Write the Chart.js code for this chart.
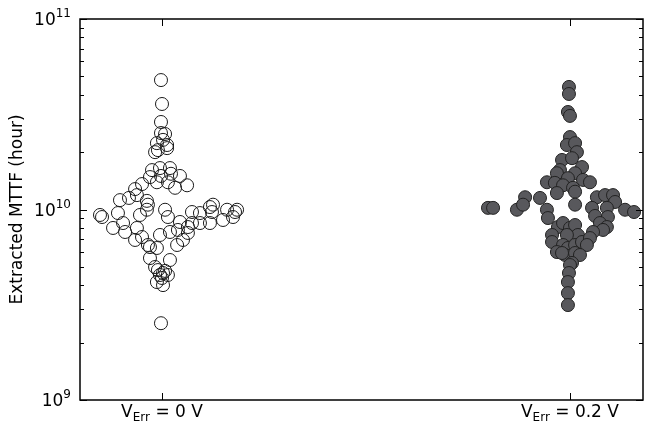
<!DOCTYPE html>
<html>
<head>
<meta charset="utf-8">
<script src="https://cdn.jsdelivr.net/npm/chart.js@4.4.1/dist/chart.umd.min.js"></script>
<style>
  html, body { margin: 0; padding: 0; background: #fff; }
  #wrap { width: 647px; height: 425px; position: relative; }
</style>
</head>
<body>
<div id="wrap"><canvas id="mttf"></canvas></div>
<script>
// group centres on the x axis (mV) and their labels: [main, subscript, rest]
const groupX = [0, 200];
const groupNames = [['V', 'Err', ' = 0 V'], ['V', 'Err', ' = 0.2 V']];
const decades = [9, 10, 11];

// V_Err = 0 V : x jitter (mV) and extracted MTTF (hours)
const zeroX = [-0.5, 0, -0.5, -0.5, 1.5, 0.5, -2.5, 2.5, 2.5, -2, -3.4,
  -4.9, -1, 3.9, -5.9, -0.5, 4.4, 8.8, -2.5, 2.9, 6.4, 12.3, -9.8, -13.2,
  -12.3, -7.4, -20.6, -16.2, -6.9, -7.4, -10.8, -21.6, -30.4, -29.4, -24,
  -19.1, -18.1, -13.2, -12.3, -9.8, -6.9, -2.5, -5.9, -5.9, -3.4, -2, 0.5,
  2.9, -1, 1.5, -2.5, 0.5, 0, 3.9, -1, 3.9, 7.8, 7.4, 10.3, 12.7, 14.7,
  12.7, 8.8, 1.5, 2.9, 14.7, 18.6, 23.5, 25, 24.5, 23.5, 18.6, 31.9, 35.8,
  36.8, 29.9, 34.8, -0.5];
const zeroY = [4.78e10, 3.58e10, 2.88e10, 2.52e10, 2.49e10, 2.32e10, 2.23e10,
  2.18e10, 2.10e10, 2.05e10, 2.00e10, 1.61e10, 1.65e10, 1.65e10, 1.48e10,
  1.50e10, 1.54e10, 1.50e10, 1.39e10, 1.39e10, 1.30e10, 1.34e10, 1.36e10,
  1.28e10, 1.19e10, 1.11e10, 1.12e10, 1.15e10, 1.06e10, 9.97e9, 9.36e9,
  9.58e9, 9.36e9, 9.13e9, 8.00e9, 8.49e9, 7.62e9, 6.92e9, 8.00e9, 7.17e9,
  6.51e9, 6.28e9, 6.35e9, 5.56e9, 4.99e9, 4.81e9, 4.64e9, 4.53e9, 4.53e9,
  4.76e9, 4.16e9, 4.01e9, 4.37e9, 5.43e9, 7.35e9, 7.62e9, 7.81e9, 6.51e9,
  6.92e9, 8.09e9, 8.49e9, 7.53e9, 8.60e9, 9.97e9, 9.13e9, 9.70e9, 9.58e9,
  1.03e10, 1.06e10, 9.70e9, 8.49e9, 8.49e9, 9.97e9, 9.70e9, 9.97e9, 8.81e9,
  9.13e9, 2.53e9];

// V_Err = 0.2 V
const biasX = [199.5, 199.5, 199, 200, 200, 198.5, 202.5, 203.4, 196.1, 201,
  205.9, 195.1, 193.6, 202.5, 199, 188.7, 192.6, 196.6, 206.4, 209.8, 201.5,
  193.6, 202.5, 178, 185.3, 213.2, 217.2, 221.1, 222.1, 159.8, 162.3, 174,
  177, 202.5, 188.7, 210.8, 218.1, 227, 231.4, 212.3, 189.2, 218.6, 194.1,
  196.6, 200, 202.5, 214.7, 218.1, 216.2, 211.3, 203.9, 198.5, 191.2, 191.2,
  196.6, 199, 202.5, 205.9, 209.8, 208.3, 193.6, 197.6, 202.5, 204.9, 196.1,
  201, 200, 199.5, 199, 199, 199];
const biasY = [4.40e10, 4.04e10, 3.25e10, 3.10e10, 2.40e10, 2.18e10, 2.23e10,
  2.00e10, 1.82e10, 1.86e10, 1.67e10, 1.61e10, 1.55e10, 1.55e10, 1.46e10,
  1.39e10, 1.38e10, 1.34e10, 1.43e10, 1.39e10, 1.30e10, 1.22e10, 1.24e10,
  1.16e10, 1.15e10, 1.16e10, 1.19e10, 1.19e10, 1.095e10, 1.02e10, 1.02e10,
  9.97e9, 1.06e10, 1.06e10, 9.97e9, 1.02e10, 1.02e10, 9.97e9, 9.70e9, 9.25e9,
  9.02e9, 9.13e9, 8.09e9, 8.49e9, 8.00e9, 8.29e9, 8.49e9, 8.09e9, 7.81e9,
  7.62e9, 7.35e9, 7.35e9, 7.35e9, 6.75e9, 6.51e9, 6.28e9, 6.51e9, 6.75e9,
  7.08e9, 6.51e9, 5.98e9, 5.77e9, 5.91e9, 5.77e9, 5.91e9, 5.24e9, 5.11e9,
  4.64e9, 4.16e9, 3.64e9, 3.15e9];

const FONT = '"DejaVu Sans", Verdana, sans-serif';

// box, inward ticks, sub/superscript labels and y title
const frame = {
  id: 'frame',
  afterDraw(chart) {
    const { ctx, chartArea: a, scales: { x, y } } = chart;
    const seg = (x1, y1, x2, y2) => {
      ctx.beginPath(); ctx.moveTo(x1, y1); ctx.lineTo(x2, y2); ctx.stroke();
    };
    ctx.save();
    ctx.strokeStyle = '#000';
    ctx.lineWidth = 1;

    for (let e = decades[0]; e < decades[decades.length - 1]; e++) {
      for (let m = 2; m < 10; m++) {
        const py = Math.round(y.getPixelForValue(m * Math.pow(10, e))) + 0.5;
        seg(a.left, py, a.left + 4, py);
        seg(a.right - 4, py, a.right, py);
      }
    }
    decades.forEach(d => {
      const py = Math.round(y.getPixelForValue(Math.pow(10, d))) + 0.5;
      seg(a.left, py, a.left + 7, py);
      seg(a.right - 7, py, a.right, py);
    });
    groupX.forEach(v => {
      const px = Math.round(x.getPixelForValue(v)) + 0.5;
      seg(px, a.bottom, px, a.bottom - 7);
      seg(px, a.top, px, a.top + 7);
    });

    ctx.lineWidth = 1.5;
    ctx.strokeRect(a.left, a.top, a.right - a.left, a.bottom - a.top);

    ctx.fillStyle = '#000';
    ctx.textBaseline = 'alphabetic';
    ctx.textAlign = 'left';
    const big = '17px ' + FONT, small = '12px ' + FONT;

    decades.forEach(d => {
      const py = y.getPixelForValue(Math.pow(10, d));
      ctx.font = small;
      const wSup = ctx.measureText(String(d)).width;
      ctx.font = big;
      const wBase = ctx.measureText('10').width;
      const right = a.left - 9;
      ctx.fillText('10', right - wSup - wBase, py + 6);
      ctx.font = small;
      ctx.fillText(String(d), right - wSup, py - 2);
    });

    groupX.forEach((v, i) => {
      const [main, sub, rest] = groupNames[i];
      ctx.font = big;
      const w1 = ctx.measureText(main).width, w3 = ctx.measureText(rest).width;
      ctx.font = small;
      const w2 = ctx.measureText(sub).width;
      let px = x.getPixelForValue(v) - (w1 + w2 + w3) / 2;
      const base = a.bottom + 17;
      ctx.font = big; ctx.fillText(main, px, base); px += w1;
      ctx.font = small; ctx.fillText(sub, px, base + 4); px += w2;
      ctx.font = big; ctx.fillText(rest, px, base);
    });

    ctx.translate(18, (a.top + a.bottom) / 2);
    ctx.rotate(-Math.PI / 2);
    ctx.textAlign = 'center';
    ctx.textBaseline = 'middle';
    ctx.font = big;
    ctx.fillText('Extracted MTTF (hour)', 0, 0);
    ctx.restore();
  }
};

new Chart(document.getElementById('mttf'), {
  type: 'scatter',
  data: {
    datasets: [{
      label: 'VErr = 0 V',
      data: zeroX.map((v, i) => ({ x: v, y: zeroY[i] })),
      pointRadius: 6.5,
      pointBackgroundColor: 'rgba(255,255,255,0)',
      pointBorderColor: '#1a1a1a',
      pointBorderWidth: 1
    }, {
      label: 'VErr = 0.2 V',
      data: biasX.map((v, i) => ({ x: v, y: biasY[i] })),
      pointRadius: 6.5,
      pointBackgroundColor: '#58585c',
      pointBorderColor: '#222',
      pointBorderWidth: 1
    }]
  },
  options: {
    responsive: true,
    maintainAspectRatio: false,
    animation: false,
    clip: false,
    layout: { autoPadding: false, padding: { left: 80, top: 19, right: 4, bottom: 25 } },
    plugins: { legend: { display: false }, tooltip: { enabled: false } },
    scales: {
      x: { type: 'linear', min: -40.2, max: 235.8, display: false },
      y: { type: 'logarithmic', min: 1e9, max: 1e11, display: false }
    }
  },
  plugins: [frame]
});
</script>
</body>
</html>
